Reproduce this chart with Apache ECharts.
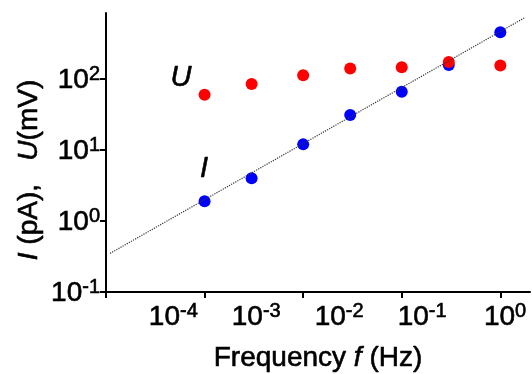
<!DOCTYPE html>
<html>
<head>
<meta charset="utf-8">
<script src="https://cdn.jsdelivr.net/npm/echarts@6/dist/echarts.min.js"></script>
<style>
  html, body { margin: 0; padding: 0; background: #fff; }
  #main { width: 532px; height: 374px; }
</style>
</head>
<body>
<div id="main"></div>
<script>
const freq = [0.001, 0.003, 0.01, 0.03, 0.1, 0.3, 1]
const currentPA = [1.9, 4.0, 12, 31, 66, 158, 455]
const voltageMV = [60, 85, 113, 141, 146, 174, 155]
const fitLine = [[1.1e-4, 0.35], [1.75, 725]]
const xTicks = [1e-4, 1e-3, 1e-2, 1e-1, 1]
const yTicks = [0.1, 1, 10, 100]

const FONT = "Liberation Sans, Arial, sans-serif"
const chart = echarts.init(document.getElementById("main"))

// heavier strokes, the reference text looks a bit bold
const ink = { color: "#000", textBorderColor: "#000", textBorderWidth: 0.6 }

const powLabel = v => "{b|10}{s|" + Math.round(Math.log10(v)) + "}"
const labelRich = {
  b: { ...ink, fontSize: 28, fontFamily: FONT, lineHeight: 30, verticalAlign: "bottom" },
  s: { ...ink, fontSize: 20, fontFamily: FONT, lineHeight: 14, verticalAlign: "top" },
}

// plot box; the x labels live on a twin axis that starts one decade earlier,
// with a blank first label so 10^-4 is not treated as the min label
const G = { left: 106, right: 2, top: 13, bottom: 82 }
const X_MAX = 2
const decadePx = (532 - G.left - G.right) / (Math.log10(X_MAX) + 4)
const xLabelValues = [1e-5, ...xTicks]

const option = {
  backgroundColor: "#fff",
  animation: false,
  grid: [
    { ...G, outerBoundsMode: "none" },
    { ...G, left: G.left - decadePx, outerBoundsMode: "none" },
  ],
  xAxis: [
    {
      type: "log",
      logBase: 10,
      min: 1e-4,
      max: X_MAX,
      name: "Frequency {i|f} (Hz)",
      nameLocation: "middle",
      nameGap: 52,
      nameTextStyle: {
        ...ink, fontSize: 28, fontFamily: FONT,
        rich: { i: { ...ink, fontSize: 28, fontFamily: FONT, fontStyle: "italic" } },
      },
      axisLine: { lineStyle: { color: "#000", width: 2 } },
      axisTick: { customValues: xTicks, length: 6, lineStyle: { color: "#000", width: 2 } },
      axisLabel: { show: false },
      splitLine: { show: false },
      minorTick: { show: false },
    },
    {
      gridIndex: 1,
      type: "log",
      logBase: 10,
      min: 1e-6,
      max: X_MAX,
      axisLine: { show: false },
      axisTick: { show: false },
      axisLabel: {
        customValues: xLabelValues,
        formatter: v => (v < 5e-5 ? " " : powLabel(v)),
        rich: labelRich,
        margin: 9,
        showMinLabel: true,
        hideOverlap: false,
      },
      splitLine: { show: false },
    },
  ],
  yAxis: [
    {
      type: "log",
      logBase: 10,
      min: 0.1,
      max: 850,
      axisLine: { lineStyle: { color: "#000", width: 2 } },
      axisTick: { customValues: yTicks, length: 6, lineStyle: { color: "#000", width: 2 } },
      axisLabel: { customValues: yTicks, formatter: powLabel, rich: labelRich, margin: 6 },
      splitLine: { show: false },
    },
    { gridIndex: 1, type: "value", show: false },
  ],
  graphic: [
    {
      type: "text", x: 29, y: 170, rotation: Math.PI / 2,
      style: {
        text: "{i|I} (pA),   {i|U}(mV)",
        align: "center", verticalAlign: "middle",
        font: "28px " + FONT, fill: "#000", stroke: "#000", lineWidth: 0.6,
        rich: { i: { fontSize: 28, fontFamily: FONT, fontStyle: "italic", fill: "#000", stroke: "#000", lineWidth: 0.6 } },
      },
    },
    {
      type: "text", x: 181, y: 78,
      style: {
        text: "U", align: "center", verticalAlign: "middle",
        font: "italic 29px " + FONT, fill: "#000", stroke: "#000", lineWidth: 0.6,
      },
    },
    {
      type: "text", x: 204, y: 169,
      style: {
        text: "I", align: "center", verticalAlign: "middle",
        font: "italic 29px " + FONT, fill: "#000", stroke: "#000", lineWidth: 0.6,
      },
    },
  ],
  series: [
    {
      type: "line",
      data: fitLine,
      symbol: "none",
      lineStyle: { color: "#333", width: 1.2, type: "dotted" },
      silent: true,
    },
    {
      name: "I",
      type: "scatter",
      data: freq.map((f, i) => [f, currentPA[i]]),
      symbolSize: 12,
      itemStyle: { color: "#0000ff", opacity: 1 },
    },
    {
      name: "U",
      type: "scatter",
      data: freq.map((f, i) => [f, voltageMV[i]]),
      symbolSize: 12,
      itemStyle: { color: "#ff0000", opacity: 1 },
    },
  ],
}

chart.setOption(option)
window.addEventListener("resize", chart.resize)
</script>
</body>
</html>
